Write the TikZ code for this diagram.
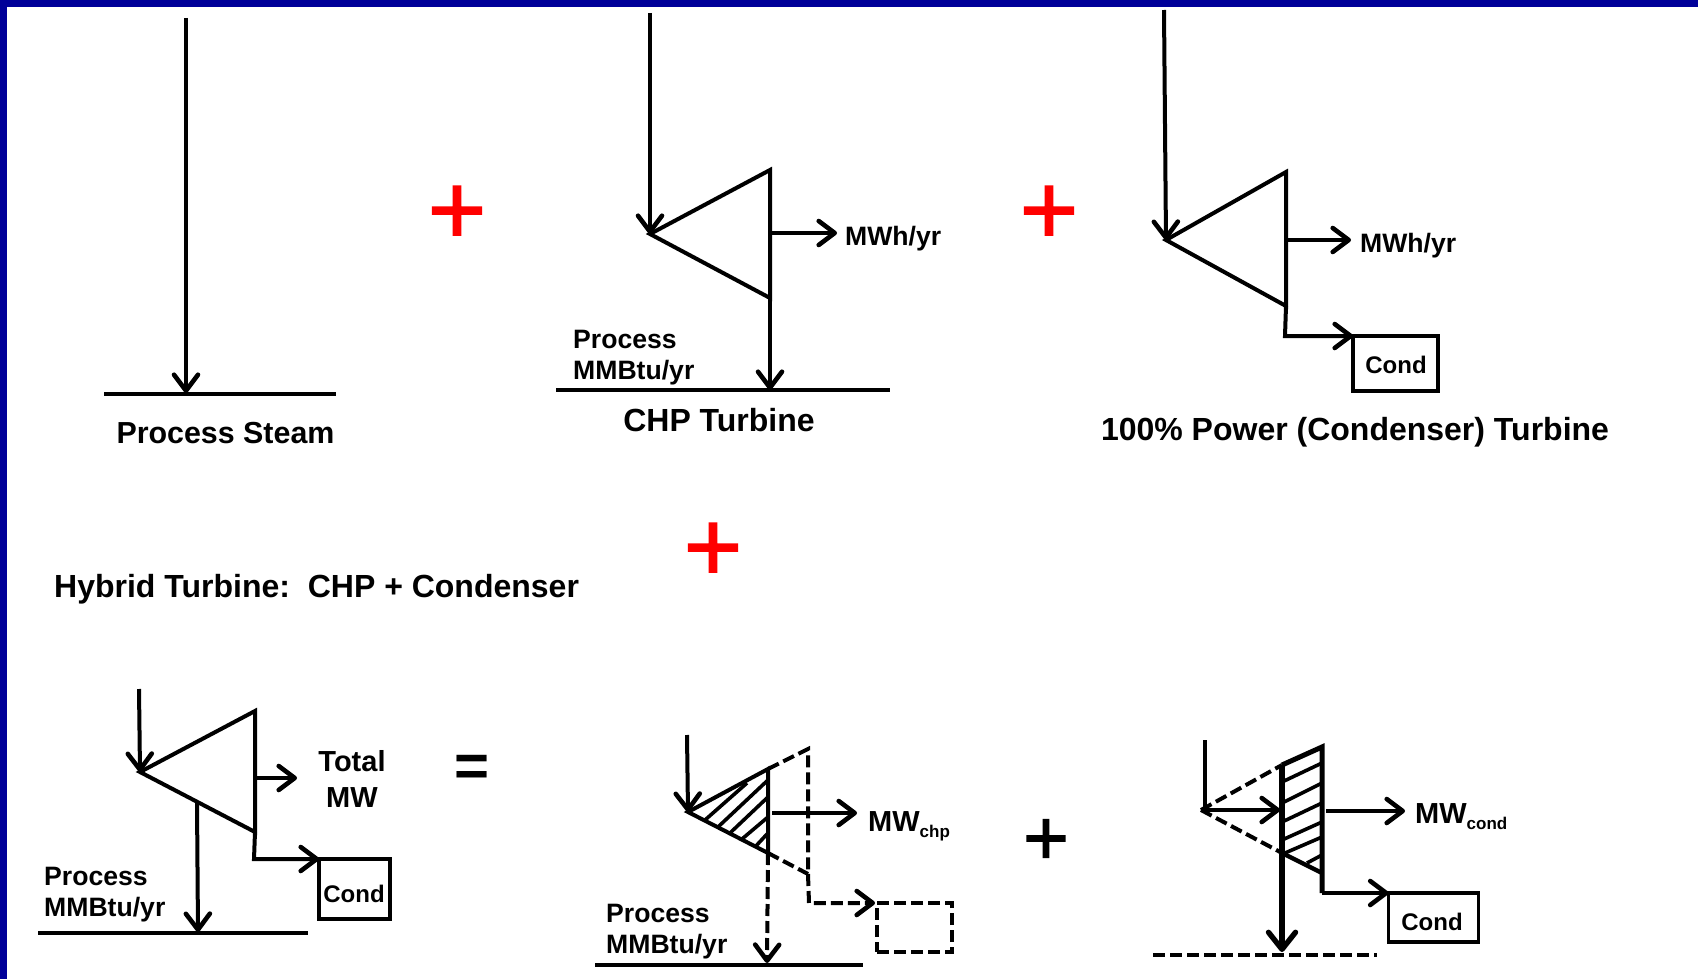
\documentclass[tikz,border=0pt]{standalone}
\usepackage{fontspec}
\setmainfont{Liberation Sans}
\newfontfamily\plusfont[FakeBold=1.5]{Liberation Sans}
\usetikzlibrary{arrows.meta}
\definecolor{framecol}{HTML}{000099}
\tikzset{
  pipe/.style={line width=4pt,line join=miter,black},
  flow/.style={pipe,-{Straight Barb[length=16pt,width=24pt,line width=4.6pt,round]}},
  dashline/.style={pipe,dash pattern=on 12pt off 5pt},
  dashflow/.style={flow,dash pattern=on 12pt off 5pt},
  thick pipe/.style={pipe,line width=5.2pt},
  hatch/.style={line width=3.6pt,black},
  big/.style={inner sep=0pt,font=\fontsize{32}{34}\selectfont\bfseries},
  mid/.style={inner sep=0pt,font=\fontsize{26.6}{31}\selectfont\bfseries,align=left},
  small/.style={inner sep=0pt,font=\fontsize{24}{28}\selectfont\bfseries},
  total/.style={inner sep=0pt,font=\fontsize{29}{36}\selectfont\bfseries,align=center},
  condbox/.style={draw=black,line width=3.8pt,inner sep=0pt,outer sep=0pt},
  redplus/.style={inner sep=0pt,text=red,font=\fontsize{100}{100}\plusfont},
}
\newcommand{\MWsub}[1]{{\fontsize{29}{32}\selectfont MW}\raisebox{-6pt}{\fontsize{17}{18}\selectfont #1}}
\begin{document}
\begin{tikzpicture}[x=1pt,y=-1pt]
\useasboundingbox (0,0) rectangle (1698,979);
\fill[white] (0,0) rectangle (1698,979);
\fill[framecol] (0,0) rectangle (1698,7);
\fill[framecol] (0,0) rectangle (7,979);

% Panel 1
\coordinate (a1) at (186,18);
\coordinate (a2) at (186,393);
\coordinate (a3) at (104,394);
\coordinate (a4) at (336,394);
\draw[flow] (a1) -- (a2);
\draw[pipe] (a3) -- (a4);
\node[big,font=\fontsize{30.4}{34}\selectfont\bfseries] (t1) at (225.5,433) {Process Steam};

% Panel 2
\coordinate (b0) at (650,13);
\coordinate (bA) at (650,234);
\coordinate (bT) at (770,170);
\coordinate (bB) at (770,298);
\coordinate (bM) at (770,233);
\coordinate (bE) at (837,233);
\coordinate (bD) at (770,390);
\coordinate (bL) at (556,390);
\coordinate (bR) at (890,390);
\draw[flow] (b0) -- (bA);
\draw[pipe] (bA) -- (bT) -- (bB) -- cycle;
\draw[flow] (bM) -- (bE);
\draw[flow] (bB) -- (bD);
\draw[pipe] (bL) -- (bR);
\node[mid,anchor=west] (b1) at (845,239) {MWh/yr};
\node[mid,anchor=west] (b2) at (573,358) {Process\\MMBtu/yr};
\node[big] (t2) at (719,420) {CHP Turbine};

% Panel 3
\coordinate (c0) at (1164,10);
\coordinate (cA) at (1166,240);
\coordinate (cT) at (1286,172);
\coordinate (cB) at (1286,306);
\coordinate (cM) at (1286,240);
\coordinate (cE) at (1351,240);
\coordinate (cK) at (1285,336);
\node[condbox,minimum width=85pt,minimum height=55pt] (cbox) at (1395.5,363.5) {};
\node[small] (c2) at (1396,365) {Cond};
\draw[flow] (c0) -- (cA);
\draw[pipe] (cA) -- (cT) -- (cB) -- cycle;
\draw[flow] (cM) -- (cE);
\draw[flow] (cB) -- (cK) -- (cbox.north west);
\node[mid,anchor=west] (c1) at (1360,246) {MWh/yr};
\node[big] (t3) at (1355,432) {100\% Power (Condenser) Turbine};

% Plus signs and equals
\node[redplus] (p1) at (457,215) {+};
\node[redplus] (p2) at (1049,215) {+};
\node[redplus] (p3) at (713,552) {+};
\node[inner sep=0pt,font=\fontsize{60}{60}\selectfont\bfseries] (eq) at (472,771) {=};
\node[inner sep=0pt,font=\fontsize{78}{78}\plusfont] (p4) at (1046,842) {+};

\node[big,anchor=west] (t4) at (54,589) {Hybrid Turbine:\ \ CHP + Condenser};

% Hybrid turbine
\coordinate (d0) at (139,689);
\coordinate (dA) at (140,772);
\coordinate (dT) at (255,711);
\coordinate (dB) at (255,832);
\coordinate (dM) at (255,778);
\coordinate (dE) at (297,778);
\coordinate (dP) at (197,803);
\coordinate (dD) at (198,932);
\coordinate (dL) at (38,933);
\coordinate (dR) at (308,933);
\coordinate (dK) at (254,859);
\node[condbox,minimum width=71pt,minimum height=60pt] (dbox) at (354.5,889) {};
\node[small] (d3) at (354,894) {Cond};
\draw[flow] (d0) -- (dA);
\draw[pipe] (dA) -- (dT) -- (dB) -- cycle;
\draw[flow] (dM) -- (dE);
\draw[flow] (dP) -- (dD);
\draw[pipe] (dL) -- (dR);
\draw[flow] (dB) -- (dK) -- (dbox.north west);
\node[total] (d1) at (352,779) {Total\\MW};
\node[mid,anchor=west] (d2) at (44,895) {Process\\MMBtu/yr};

% CHP share
\coordinate (e0) at (687,735);
\coordinate (eA) at (688,812);
\coordinate (eT) at (768,769);
\coordinate (eB) at (768,853);
\coordinate (eO) at (808,749);
\coordinate (eU) at (808,874);
\coordinate (eK) at (809,903);
\coordinate (eN) at (875,903);
\coordinate (eM) at (772,813);
\coordinate (eE) at (857,813);
\coordinate (eD) at (767,963);
\coordinate (eL) at (595,965);
\coordinate (eR) at (863,965);
\node[minimum width=75pt,minimum height=49pt,inner sep=0pt,outer sep=0pt,draw=black,dashline] (ebox) at (914.5,927.5) {};
\draw[flow] (e0) -- (eA);
\draw[pipe] (eA) -- (eT) -- (eB) -- cycle;
\draw[dashline] (eT) -- (eO) -- (eU);
\draw[dashline] (eB) -- (eU);
\draw[dashflow] (eU) -- (eK) -- (eN);
\draw[flow] (eM) -- (eE);
\draw[dashflow] (eB) -- (eD);
\draw[pipe] (eL) -- (eR);
\draw[hatch] (705,820) -- (747,783);
\draw[hatch] (718,827) -- (768,780);
\draw[hatch] (730,833) -- (768,797);
\draw[hatch] (742,839) -- (768,817);
\draw[hatch] (755,847) -- (768,833);
\node[inner sep=0pt,anchor=west,font=\bfseries] (e1) at (868,826) {\MWsub{chp}};
\node[mid,anchor=west] (e2) at (606,932) {Process\\MMBtu/yr};

% Condenser share
\coordinate (f0) at (1205,740);
\coordinate (fV) at (1205,810);
\coordinate (fA) at (1201,810);
\coordinate (fT) at (1282,765);
\coordinate (fB) at (1282,853);
\coordinate (fO) at (1322,747);
\coordinate (fU) at (1322,873);
\coordinate (fI) at (1280,810);
\coordinate (fD) at (1282,952);
\coordinate (fM) at (1326,811);
\coordinate (fE) at (1405,811);
\coordinate (fK) at (1322,893);
\coordinate (fL) at (1153,955);
\coordinate (fR) at (1377,955);
\node[condbox,minimum width=90pt,minimum height=49pt] (fbox) at (1433.5,917.5) {};
\node[small] (f2) at (1432,922) {Cond};
\draw[pipe] (f0) -- (fV);
\draw[dashline] (fA) -- (fT);
\draw[dashline] (fA) -- (fB);
\draw[flow] (fA) -- (fI);
\draw[thick pipe,-{Straight Barb[length=17pt,width=27pt,line width=5.4pt,round]}] (fT) -- (fD);
\draw[pipe,line width=5pt] (fT) -- (fO) -- (fK);
\draw[pipe,line width=4.4pt] (fB) -- (fU);
\draw[flow] (fK) -- (fbox.north west);
\draw[flow] (fM) -- (fE);
\draw[dashline] (fL) -- (fR);
\draw[hatch] (1282,782) -- (1322,763);
\draw[hatch] (1282,803) -- (1322,783);
\draw[hatch] (1282,822) -- (1322,803);
\draw[hatch] (1282,840) -- (1322,822);
\draw[hatch] (1285,853) -- (1322,837);
\draw[hatch] (1307,863) -- (1322,855);
\node[inner sep=0pt,anchor=west,font=\bfseries] (f1) at (1415,817) {\MWsub{cond}};
\end{tikzpicture}
\end{document}
